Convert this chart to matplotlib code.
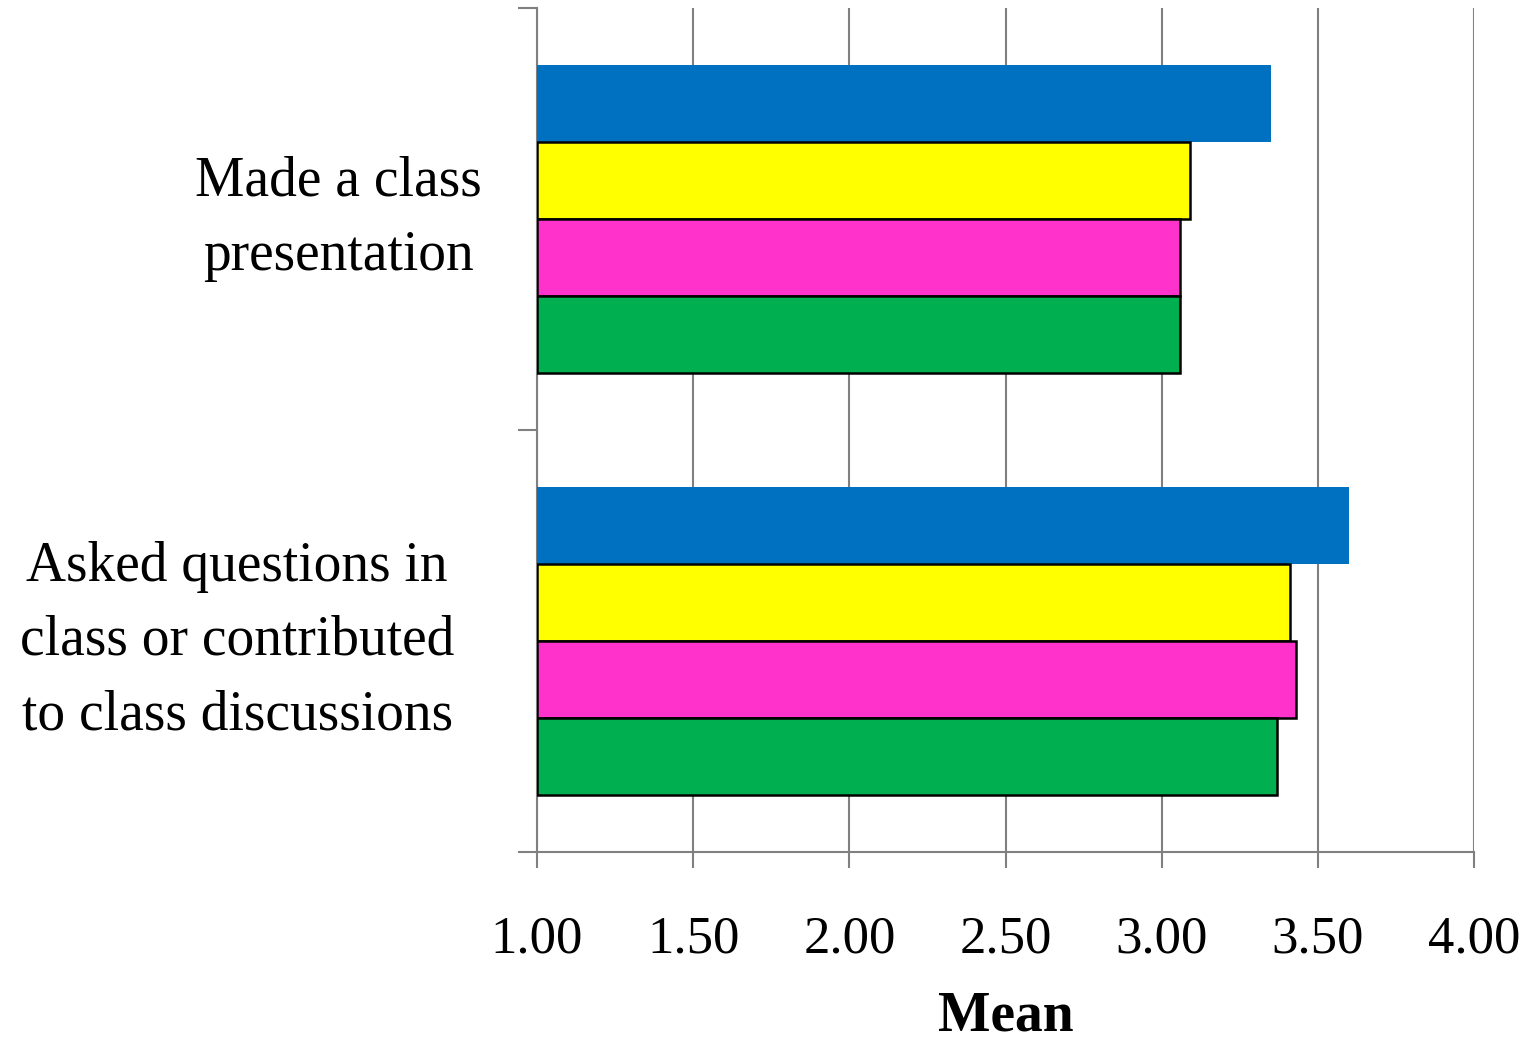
import numpy as np
import matplotlib
matplotlib.use("Agg")
from matplotlib import pyplot as plt

# category labels, top to bottom
categorias = ["Made a class\npresentation",
              "Asked questions in\nclass or contributed\nto class discussions"]
# mean per group
serie_azul = [3.35, 3.60]
serie_amarilla = [3.09, 3.41]
serie_rosa = [3.06, 3.43]
serie_verde = [3.06, 3.37]

colores = ["#0070C0", "#FFFF00", "#FF33CC", "#00B050"]
bordes = ["none", "black", "black", "black"]

plt.rcParams['font.family'] = ['Liberation Serif', 'DejaVu Serif']
fig = plt.figure(figsize=(15.3, 10.41), dpi=100, facecolor='w')
ax = fig.add_axes([0.351, 0.1816, 0.6124, 0.8107])

y = np.arange(len(categorias))
alto = 0.1825
series = [serie_azul, serie_amarilla, serie_rosa, serie_verde]
for i, valores in enumerate(series):
    desplaz = (i - 1.5) * alto
    izq = np.full(len(valores), 1.0)
    ax.barh(y + desplaz, np.array(valores) - 1.0, height=alto, left=izq,
            color=colores[i], edgecolor=bordes[i], linewidth=1.8, zorder=3)

ax.set_xlim(1.0, 4.0)
ax.set_ylim(1.5, -0.5)
ax.set_xticks(np.arange(1.0, 4.01, 0.5))
ax.set_xticklabels(["%.2f" % v for v in np.arange(1.0, 4.01, 0.5)], fontsize=38)
ax.tick_params(axis='x', direction='out', length=11.5, width=1.5, color='#808080', pad=34)
ax.set_yticks([-0.5, 0.5, 1.5])
ax.set_yticklabels([])
ax.tick_params(axis='y', direction='out', length=14, width=1.5, color='#808080')
ax.grid(axis='x', color='#808080', linewidth=1.5, zorder=0)
ax.set_axisbelow(True)

for lado in ['top', 'right']:
    ax.spines[lado].set_visible(False)
for lado in ['left', 'bottom']:
    ax.spines[lado].set_color('#808080')
    ax.spines[lado].set_linewidth(1.5)

# category labels beside the axis
trans = ax.get_yaxis_transform()
ax.text(-0.212, y[0], categorias[0], transform=trans, ha='center', va='center',
        fontsize=40, linespacing=1.56)
ax.text(-0.320, y[1], categorias[1], transform=trans, ha='center', va='center',
        fontsize=40, linespacing=1.56)

ax.set_xlabel("Mean", fontsize=40, fontweight='bold', labelpad=20)

plt.savefig("out.png", dpi=100)
